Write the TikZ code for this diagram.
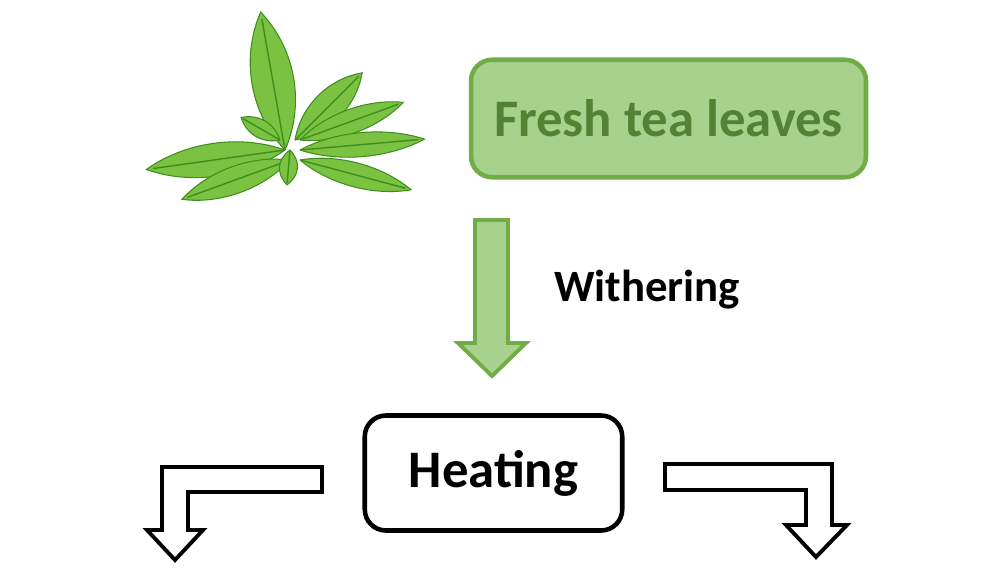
\documentclass[tikz,border=0pt]{standalone}
\usepackage{fontspec}
\setmainfont{Carlito}
\usetikzlibrary{positioning}
\definecolor{leafgreen}{HTML}{70AD47}
\definecolor{lightgreen}{HTML}{A9D18E}
\definecolor{darkgreen}{HTML}{548235}
\definecolor{leafdark}{HTML}{3E8E1E}
\definecolor{leaflight}{HTML}{7CC242}
\tikzset{
  stepbox/.style={draw, line width=2.6pt, rounded corners=12pt, font=\bfseries\fontsize{30}{36}\selectfont},
  blockarrow/.style={line width=2.2pt, line join=miter},
  leaf/.style={fill=leaflight, draw=leafdark, line width=0.6pt}
}
\newcommand{\teaLeaf}[4]{% base, angle, length, width
  \fill[leaf, shift={#1}, rotate=#2] (0,0) .. controls (#3*0.3,#4) and (#3*0.7,#4) .. (#3,0)
    .. controls (#3*0.7,-#4) and (#3*0.3,-#4) .. (0,0);
  \draw[leafdark, shift={#1}, rotate=#2, line width=0.8pt] (0,0) -- (#3*0.95,0);
}
\begin{document}
\begin{tikzpicture}[x=0.02cm, y=-0.02cm]
  \useasboundingbox (0,0) rectangle (1000,568);
  % Tea leaves
  \teaLeaf{(285,150)}{100}{140}{28}
  \teaLeaf{(295,140)}{45}{95}{20}
  \teaLeaf{(300,140)}{20}{110}{16}
  \teaLeaf{(300,150)}{5}{125}{16}
  \teaLeaf{(285,150)}{-172}{140}{22}
  \teaLeaf{(290,160)}{-160}{115}{18}
  \teaLeaf{(300,160)}{-15}{115}{16}
  \teaLeaf{(290,150)}{-95}{35}{12}
  \teaLeaf{(280,140)}{150}{45}{12}
  % Boxes
  \node[stepbox, draw=leafgreen, fill=lightgreen, text=darkgreen, minimum width=7.9cm, minimum height=2.35cm]
    (fresh) at (668.5,118.5) {Fresh tea leaves};
  \node[stepbox, draw=black, fill=white, minimum width=5.15cm, minimum height=2.3cm]
    (heating) at (493.5,473) {Heating};
  \node[font=\bfseries\fontsize{25.5}{30}\selectfont, anchor=west] (withering) at (548,290) {Withering};
  % Arrows
  \draw[blockarrow, draw=leafgreen, fill=lightgreen] (475,220) -- (508,220) -- (508,343) -- (526,343)
    -- (492,376) -- (458,343) -- (475,343) -- cycle;
  \draw[blockarrow, fill=white] (322,467) -- (162,467) -- (162,530) -- (147,530) -- (175,560)
    -- (203,530) -- (188,530) -- (188,492) -- (322,492) -- cycle;
  \draw[blockarrow, fill=white] (665,464) -- (832,464) -- (832,525) -- (847,525) -- (816,557)
    -- (786,525) -- (806,525) -- (806,490) -- (665,490) -- cycle;
\end{tikzpicture}
\end{document}
